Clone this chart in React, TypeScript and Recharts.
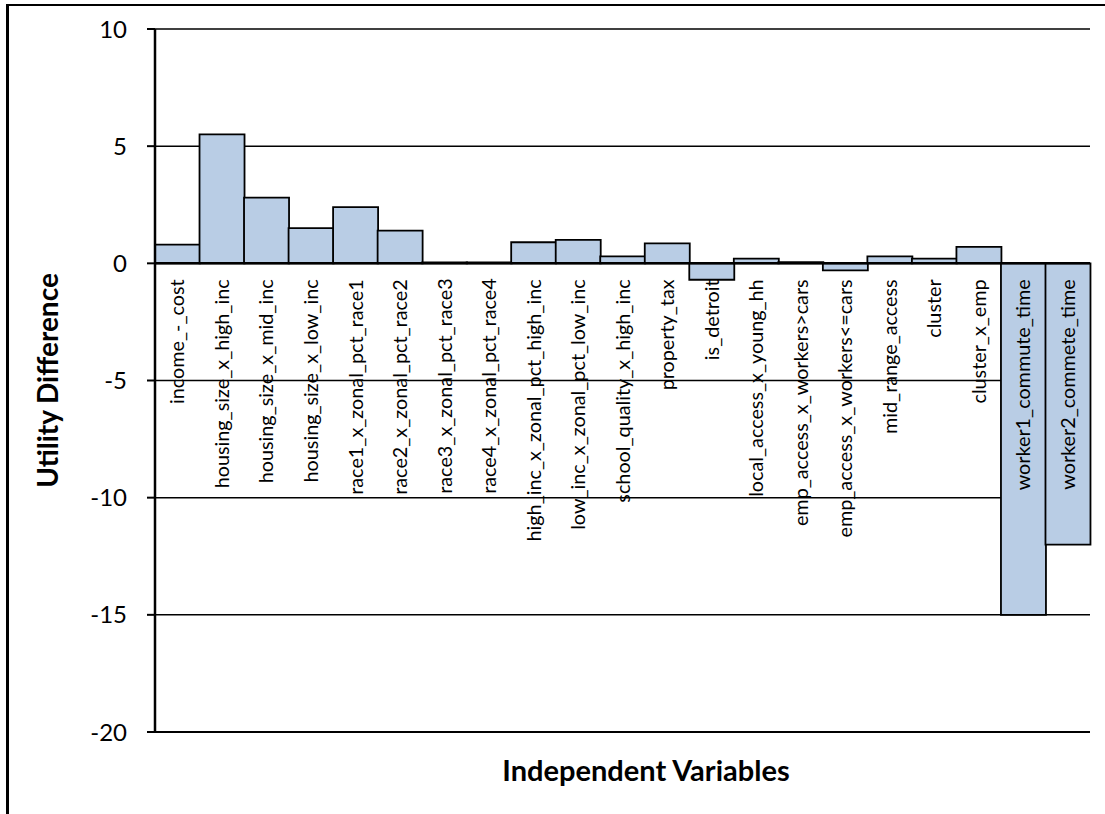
import React from 'react';
import { BarChart, Bar, XAxis, YAxis, CartesianGrid, ReferenceLine, LabelList } from 'recharts';

const variables = [
    'income_-_cost',
    'housing_size_x_high_inc',
    'housing_size_x_mid_inc',
    'housing_size_x_low_inc',
    'race1_x_zonal_pct_race1',
    'race2_x_zonal_pct_race2',
    'race3_x_zonal_pct_race3',
    'race4_x_zonal_pct_race4',
    'high_inc_x_zonal_pct_high_inc',
    'low_inc_x_zonal_pct_low_inc',
    'school_quality_x_high_inc',
    'property_tax',
    'is_detroit',
    'local_access_x_young_hh',
    'emp_access_x_workers>cars',
    'emp_access_x_workers<=cars',
    'mid_range_access',
    'cluster',
    'cluster_x_emp',
    'worker1_commute_time',
    'worker2_commete_time',
];

const utilityDiff = [
    0.8, 5.5, 2.8, 1.5, 2.4, 1.4, 0, 0, 0.9, 1.0, 0.3, 0.85, -0.7, 0.2, 0.05, -0.3, 0.3, 0.2, 0.7, -15, -12,
];

const yTicks = [-20, -15, -10, -5, 0, 5, 10];

const data = variables.map((name, i) => ({ name, value: utilityDiff[i] }));

const FONT = 'Lato, "Open Sans", sans-serif';

// draws the category name rotated, hanging just under the zero line
const VarLabel = (props: any) => {
    const { x, y, width, height, value } = props;
    const i = variables.indexOf(value);
    const v = utilityDiff[i];
    const zeroY = v > 0 ? Math.max(y, y + height) : Math.min(y, y + height);
    const cx = x + width / 2;
    const ty = zeroY + 16;
    return (
        <text
            x={cx}
            y={ty}
            dy="0.35em"
            transform={`rotate(-90, ${cx}, ${ty})`}
            textAnchor="end"
            fontFamily={FONT}
            fontSize={19.8}
            fill="#000"
        >
            {value}
        </text>
    );
};

const App: React.FC = () => {
    return (
        <div style={{ position: 'fixed', left: 0, top: 0, width: 1105, height: 814, background: '#fff', overflow: 'hidden' }}>
            <div
                style={{
                    position: 'absolute',
                    left: 6,
                    top: 4,
                    width: 1110,
                    height: 830,
                    borderTop: '2px solid #000',
                    borderLeft: '3px solid #000',
                }}
            />
            <div style={{ position: 'absolute', left: 0, top: 0 }}>
                <BarChart
                    width={1105}
                    height={814}
                    data={data}
                    margin={{ top: 29, right: 15, bottom: 82, left: 75 }}
                    barCategoryGap={0}
                >
                    <CartesianGrid vertical={false} stroke="#000" strokeWidth={1.5} />
                    <XAxis dataKey="name" hide />
                    <YAxis
                        width={80}
                        domain={[-20, 10]}
                        ticks={yTicks}
                        interval={0}
                        axisLine={{ stroke: '#000', strokeWidth: 2.5 }}
                        tickLine={{ stroke: '#000', strokeWidth: 2 }}
                        tickSize={8}
                        tickMargin={20}
                        tick={{ fill: '#000', fontSize: 24, fontFamily: FONT }}
                        label={{
                            value: 'Utility Difference',
                            angle: -90,
                            position: 'insideLeft',
                            offset: -27,
                            style: { textAnchor: 'middle', fontFamily: FONT, fontWeight: 700, fontSize: 28, fill: '#000' },
                        }}
                    />
                    <Bar
                        dataKey="value"
                        fill="#B9CDE5"
                        stroke="#000"
                        strokeWidth={1.8}
                        minPointSize={1}
                        isAnimationActive={false}
                    >
                        <LabelList dataKey="name" content={<VarLabel />} />
                    </Bar>
                    <ReferenceLine y={0} stroke="#000" strokeWidth={2.5} />
                    <ReferenceLine y={-20} stroke="#000" strokeWidth={2} />
                </BarChart>
            </div>
            <div
                style={{
                    position: 'absolute',
                    left: 0,
                    width: 1292,
                    top: 752,
                    textAlign: 'center',
                    fontFamily: FONT,
                    fontWeight: 700,
                    fontSize: 29,
                    color: '#000',
                }}
            >
                Independent Variables
            </div>
        </div>
    );
};

export default App;
